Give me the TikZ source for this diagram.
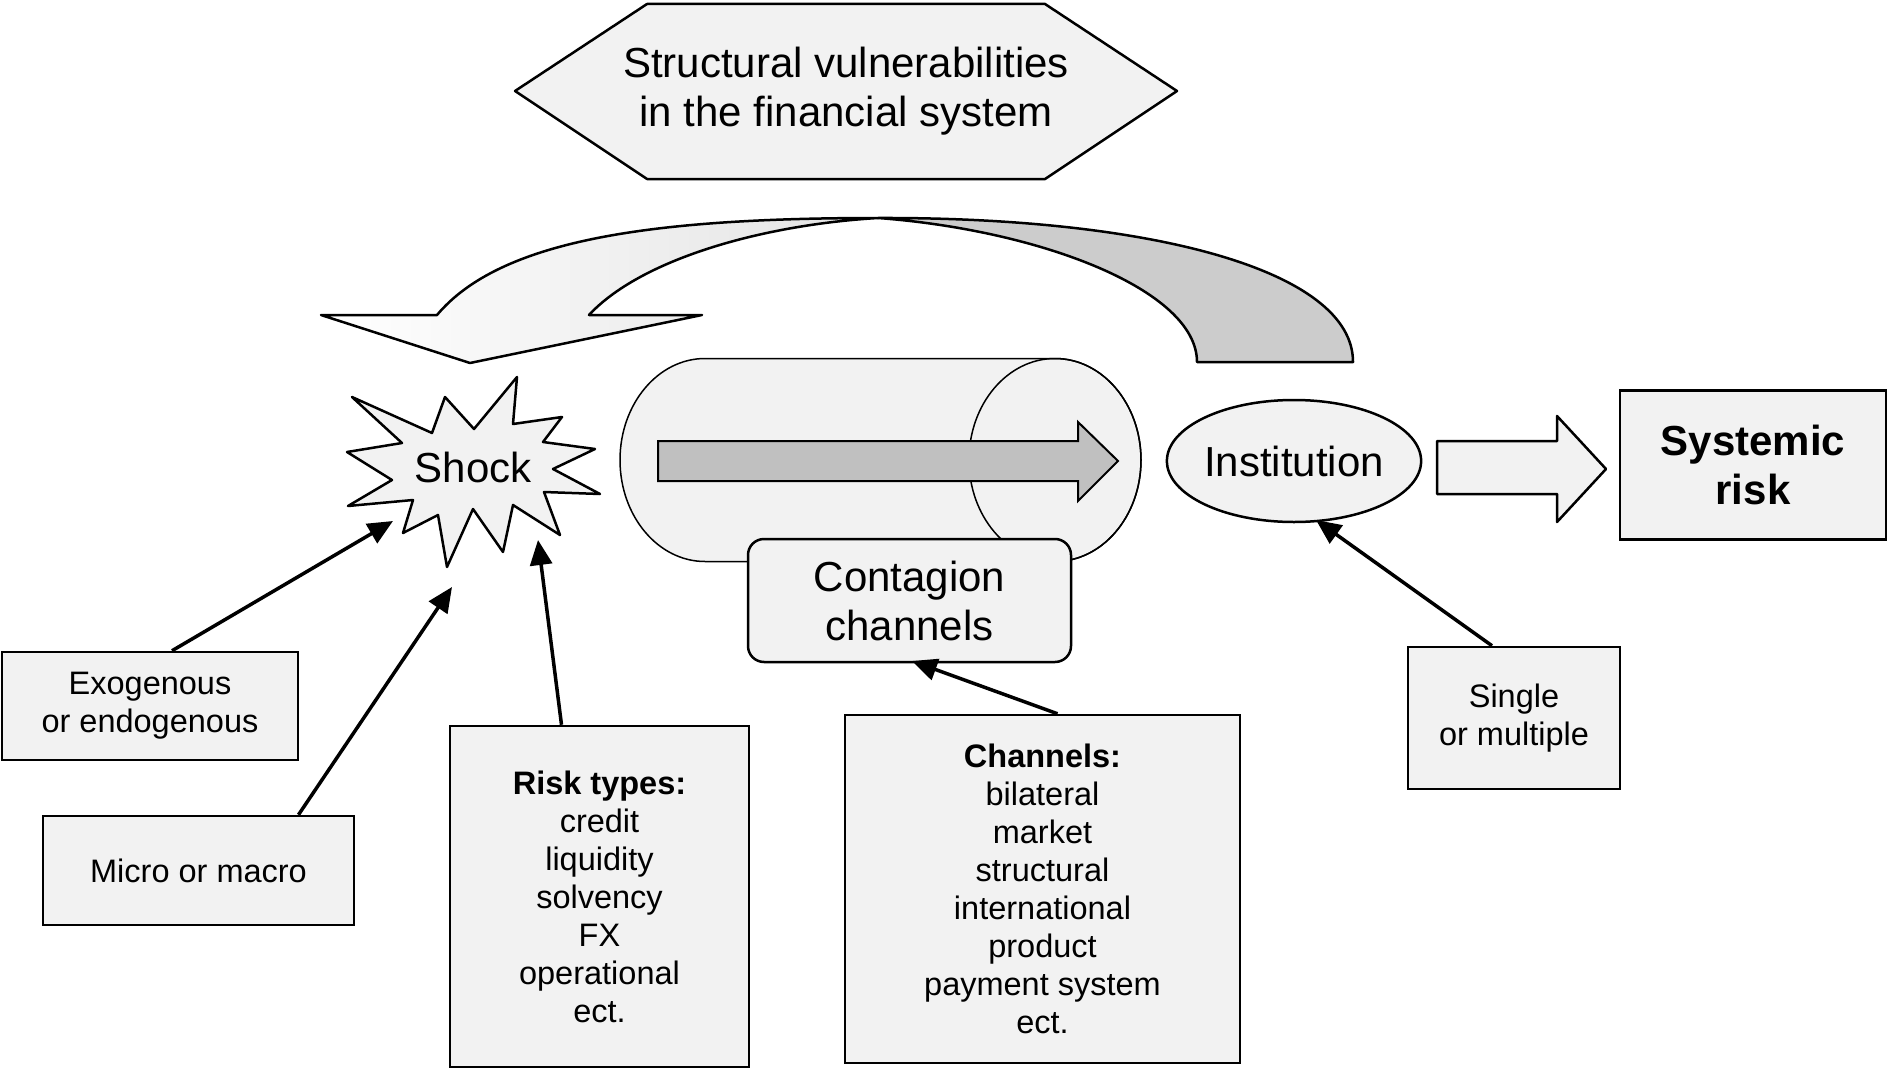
\documentclass[tikz,border=0pt]{standalone}
\usepackage{fontspec}
\setmainfont{Liberation Sans}
\usetikzlibrary{arrows.meta,calc,shapes.geometric}
\definecolor{boxgray}{RGB}{242,242,242}
\definecolor{arrgray}{RGB}{192,192,192}
\begin{document}
\begin{tikzpicture}[x=1pt,y=-1pt,
  box/.style={draw,line width=2.5pt,fill=boxgray,align=center,inner sep=0pt},
  small/.style={font=\fontsize{32.5}{38}\selectfont},
  big/.style={font=\fontsize{42}{49}\selectfont},
  conn/.style={line width=3.5pt,-{Triangle[length=25pt,width=22pt]}},
  outl/.style={draw,line width=2.5pt,line join=round}]
\fill[white] (0,0) rectangle (1887,1070);
\useasboundingbox (0,0) rectangle (1887,1070);

% hexagon
\path[outl,fill=boxgray] (515,91) -- (647,4) -- (1045,4) -- (1177,91) -- (1045,179) -- (647,179) -- cycle;
\node[big,align=center] (vuln) at (846,91) {Structural vulnerabilities\\in the financial system};

% curved arrow
\path[outl,left color=white,right color=gray!22] (878,218) .. controls (650,218) and (500,240) .. (437,315)
  -- (321,315) -- (470,363) -- (702,315) -- (589,315)
  .. controls (640,260) and (760,225) .. (878,218) -- cycle;
\path[outl,fill=gray!40] (878,218) .. controls (1150,217) and (1353,270) .. (1353,362)
  -- (1197,362) .. controls (1197,290) and (1040,230) .. (878,218) -- cycle;

% shock
\path[outl,fill=boxgray] (352,397) -- (432,433) -- (445,397) -- (474,429) -- (517,377) -- (513,424)
  -- (562,417) -- (543,442) -- (595,449) -- (553,469) -- (600,494) -- (544,492) -- (560,535)
  -- (513,505) -- (503,552) -- (473,509) -- (447,567) -- (438,515) -- (403,533) -- (413,500)
  -- (348,506) -- (392,480) -- (347,452) -- (402,443) -- cycle;
\node[big] (shock) at (473,467) {Shock};
\coordinate (t1) at (393,521);
\coordinate (t2) at (452,587);
\coordinate (t3) at (538,540);

% cylinder
\path[draw,line width=1.5pt,fill=boxgray] (705,358.5) -- (1055,358.5)
  arc[start angle=90,end angle=-90,x radius=86pt,y radius=101.5pt] -- (705,561.5)
  arc[start angle=270,end angle=90,x radius=85pt,y radius=101.5pt] -- cycle;
\draw[line width=1.5pt] (1055,460) ellipse[x radius=86pt,y radius=101.5pt];
\path[draw,line width=2pt,fill=arrgray] (658,441) -- (1078,441) -- (1078,422) -- (1118,461)
  -- (1078,501) -- (1078,481) -- (658,481) -- cycle;
\node[box,rounded corners=16pt,big,minimum width=323pt,minimum height=123pt] (cont) at (909.5,600.5) {Contagion\\channels};

% institution and systemic risk
\node[draw,ellipse,line width=2.5pt,fill=boxgray,inner sep=0pt,minimum width=249pt,minimum height=122pt,big] (inst) at (1294,461) {Institution};
\path[outl,fill=boxgray] (1437,441) -- (1557,441) -- (1557,416) -- (1606,469) -- (1557,522) -- (1557,494) -- (1437,494) -- cycle;
\node[box,big,font=\fontsize{42}{49}\selectfont\bfseries,minimum width=266pt,minimum height=149pt] (sys) at (1753,465) {Systemic\\risk};

% lower boxes
\node[box,small,minimum width=296pt,minimum height=108pt] (exo) at (150,706) {Exogenous\\or endogenous};
\node[box,small,minimum width=311pt,minimum height=109pt] (micro) at (198.5,870.5) {Micro or macro};
\node[box,small,minimum width=299pt,minimum height=341pt] (risk) at (599.5,896.5) {\textbf{Risk types:}\\credit\\liquidity\\solvency\\FX\\operational\\ect.};
\node[box,small,minimum width=395pt,minimum height=348pt] (chan) at (1042.5,889) {\textbf{Channels:}\\bilateral\\market\\structural\\international\\product\\payment system\\ect.};
\node[box,small,minimum width=212pt,minimum height=142pt] (single) at (1514,718) {Single\\or multiple};
\coordinate (t4) at (912,661);
\coordinate (t5) at (1316,520);

% connectors
\draw[conn] ([xshift=22pt]exo.north) -- (t1);
\draw[conn] ([xshift=100pt]micro.north) -- (t2);
\draw[conn] ([xshift=-38pt]risk.north) -- (t3);
\draw[conn] ([xshift=15pt]chan.north) -- (t4);
\draw[conn] ([xshift=-22pt]single.north) -- (t5);
\end{tikzpicture}
\end{document}
